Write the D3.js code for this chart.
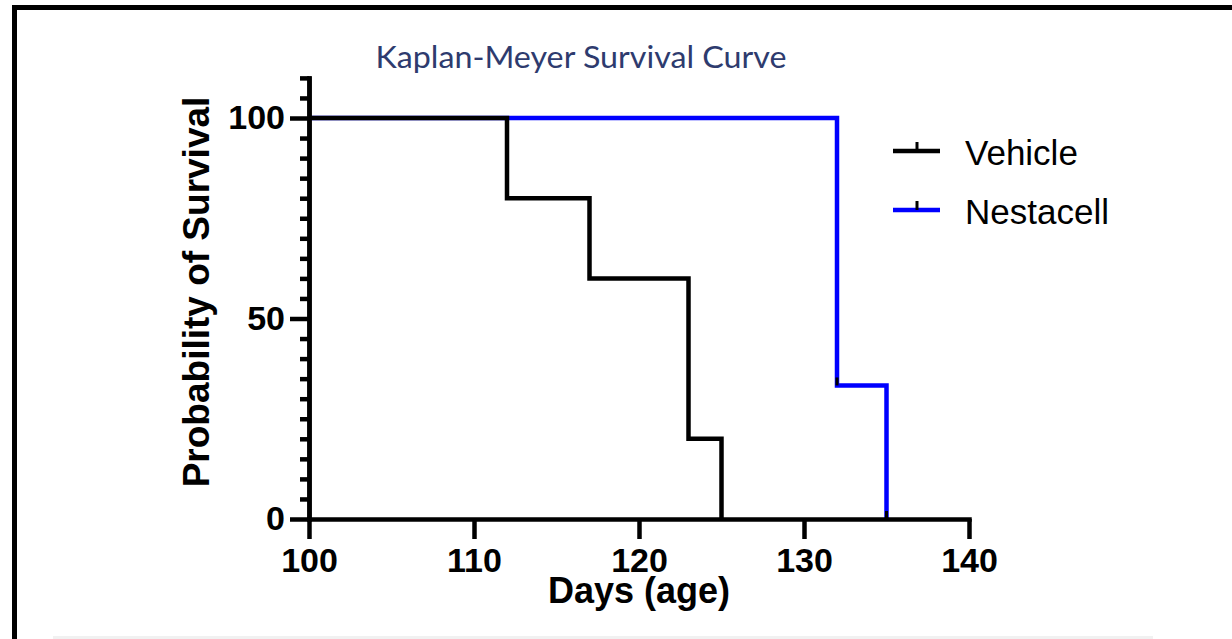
<!DOCTYPE html>
<html>
<head>
<meta charset="utf-8">
<script src="https://d3js.org/d3.v7.min.js"></script>
<style>
  body { margin: 0; background: #fff; }
  svg { display: block; }
</style>
</head>
<body>
<div id="chart-area"></div>
<script>
// survival data
var vehicleDays = [100, 112, 117, 123, 125];
var vehicleSurv = [100, 80, 60, 20, 0];
var nestDays = [100, 132, 135];
var nestSurv = [100, 33.3, 0];

var xTicks = [100, 110, 120, 130, 140];
var yMajor = [0, 50, 100];
var yMinor = d3.range(5, 111, 5).filter(function (v) { return v % 50 !== 0; });

var seriesNames = ["Vehicle", "Nestacell"];
var seriesColors = ["#000000", "#0000ff"];

var W = 1232, H = 639;

var svg = d3.select("#chart-area").append("svg")
  .attr("width", W)
  .attr("height", H);

// faint strip at the very bottom
svg.append("rect")
  .attr("x", 53).attr("y", 636)
  .attr("width", 1100).attr("height", 3)
  .attr("fill", "#f1f1f1");

// frame (cropped on right and bottom)
svg.append("rect")
  .attr("x", 14.5).attr("y", 7.5)
  .attr("width", 1400).attr("height", 800)
  .attr("fill", "none")
  .attr("stroke", "#000")
  .attr("stroke-width", 5);

// scales
var x = d3.scaleLinear().domain([100, 140]).range([309, 969]);
var y = d3.scaleLinear().domain([0, 110]).range([519, 519 - 4.01 * 110]);

var axisW = 4.5;

// title
svg.append("text")
  .attr("x", 581)
  .attr("y", 68)
  .attr("text-anchor", "middle")
  .attr("font-family", "Lato, 'Open Sans', sans-serif")
  .attr("font-size", "30px")
  .attr("textLength", 411)
  .attr("lengthAdjust", "spacingAndGlyphs")
  .attr("fill", "#2e3b6e")
  .text("Kaplan-Meyer Survival Curve");

// data lines
var line = d3.line()
  .x(function (d) { return x(d[0]); })
  .y(function (d) { return y(d[1]); })
  .curve(d3.curveStepAfter);

var nestPts = nestDays.map(function (d, i) { return [d, nestSurv[i]]; });
var vehPts = vehicleDays.map(function (d, i) { return [d, vehicleSurv[i]]; });

svg.append("path")
  .attr("d", line(nestPts))
  .attr("fill", "none")
  .attr("stroke", seriesColors[1])
  .attr("stroke-width", 4.5);

// small dark marks at the foot of each Nestacell drop
svg.selectAll(".nest-mark").data(nestPts.slice(1)).enter().append("line")
  .attr("class", "nest-mark")
  .attr("x1", function (d) { return x(d[0]); })
  .attr("x2", function (d) { return x(d[0]); })
  .attr("y1", function (d) { return y(d[1]) - 8; })
  .attr("y2", function (d) { return y(d[1]); })
  .attr("stroke", "#000")
  .attr("stroke-width", 3);

svg.append("path")
  .attr("d", line(vehPts))
  .attr("fill", "none")
  .attr("stroke", seriesColors[0])
  .attr("stroke-width", 4.5);

// y axis minor ticks
var yMinorG = svg.append("g")
  .attr("transform", "translate(" + x(100) + ",0)")
  .call(d3.axisLeft(y).tickValues(yMinor).tickSize(9).tickSizeOuter(0).tickFormat(""));

// y axis major ticks
var yAxisG = svg.append("g")
  .attr("transform", "translate(" + x(100) + ",0)")
  .call(d3.axisLeft(y).tickValues(yMajor).tickSize(19).tickSizeOuter(0).tickPadding(5));

// x axis
var xAxisG = svg.append("g")
  .attr("transform", "translate(0," + y(0) + ")")
  .call(d3.axisBottom(x).tickValues(xTicks).tickSize(20).tickSizeOuter(0).tickPadding(9));

[yMinorG, yAxisG, xAxisG].forEach(function (g) {
  g.selectAll("path, line")
    .attr("stroke", "#000")
    .attr("stroke-width", axisW);
  g.select(".domain").attr("stroke-linecap", "square");
  g.selectAll("text")
    .attr("font-family", "'Liberation Sans', Arial, sans-serif")
    .attr("font-weight", "bold")
    .attr("font-size", "34px")
    .attr("fill", "#000");
});

// axis titles
svg.append("text")
  .attr("x", x(120))
  .attr("y", 603)
  .attr("text-anchor", "middle")
  .attr("font-family", "'Liberation Sans', Arial, sans-serif")
  .attr("font-weight", "bold")
  .attr("font-size", "36px")
  .text("Days (age)");

svg.append("text")
  .attr("transform", "translate(209,292) rotate(-90)")
  .attr("text-anchor", "middle")
  .attr("font-family", "'Liberation Sans', Arial, sans-serif")
  .attr("font-weight", "bold")
  .attr("font-size", "37px")
  .text("Probability of Survival");

// legend
var legendY = [151, 210];
var legend = svg.selectAll(".legend").data(seriesNames).enter().append("g")
  .attr("class", "legend")
  .attr("transform", function (d, i) { return "translate(0," + legendY[i] + ")"; });

legend.append("line")
  .attr("x1", 893).attr("x2", 940)
  .attr("y1", 0).attr("y2", 0)
  .attr("stroke", function (d, i) { return seriesColors[i]; })
  .attr("stroke-width", 4.5);

legend.append("line")
  .attr("x1", 917).attr("x2", 917)
  .attr("y1", 0).attr("y2", -9)
  .attr("stroke", "#000")
  .attr("stroke-width", 3);

legend.append("text")
  .attr("x", 965)
  .attr("y", 14)
  .attr("font-family", "'Liberation Sans', Arial, sans-serif")
  .attr("font-size", "35px")
  .text(function (d) { return d; });
</script>
</body>
</html>
